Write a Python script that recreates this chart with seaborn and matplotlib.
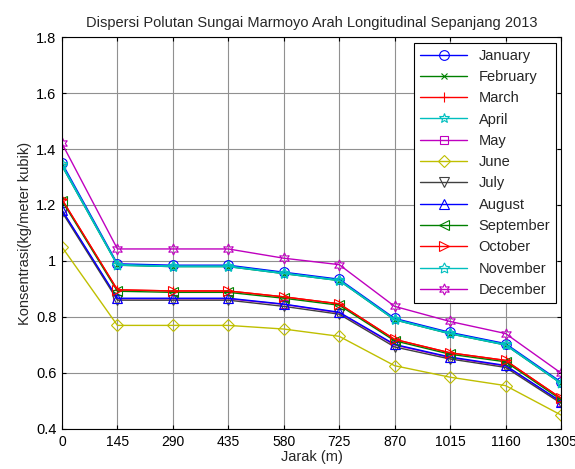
import matplotlib
matplotlib.use('Agg')
import matplotlib.pyplot as plt
from matplotlib.ticker import FuncFormatter
import pandas as pd
import seaborn as sns

sns.set_style(style='whitegrid')
plt.rcParams['font.family'] = ['Liberation Sans', 'DejaVu Sans']

jarak = [0, 145, 290, 435, 580, 725, 870, 1015, 1160, 1305]

months = ['January', 'February', 'March', 'April', 'May', 'June', 'July',
          'August', 'September', 'October', 'November', 'December']

january = [1.35, 0.99, 0.985, 0.985, 0.96, 0.935, 0.795, 0.745, 0.705, 0.568]
february = [1.34, 0.985, 0.98, 0.98, 0.955, 0.93, 0.79, 0.74, 0.70, 0.563]
march = [1.22, 0.897, 0.893, 0.893, 0.872, 0.847, 0.72, 0.672, 0.645, 0.51]
april = [1.34, 0.985, 0.98, 0.98, 0.955, 0.93, 0.79, 0.74, 0.70, 0.563]
may = [1.18, 0.865, 0.865, 0.865, 0.845, 0.815, 0.70, 0.655, 0.625, 0.497]
june = [1.05, 0.77, 0.77, 0.77, 0.757, 0.731, 0.626, 0.585, 0.555, 0.45]
july = [1.175, 0.86, 0.86, 0.86, 0.838, 0.81, 0.693, 0.65, 0.62, 0.492]
august = [1.182, 0.867, 0.867, 0.867, 0.846, 0.817, 0.702, 0.657, 0.627, 0.498]
september = [1.215, 0.892, 0.888, 0.888, 0.867, 0.842, 0.715, 0.667, 0.64, 0.505]
october = [1.22, 0.897, 0.893, 0.893, 0.872, 0.847, 0.72, 0.672, 0.645, 0.51]
november = [1.345, 0.987, 0.982, 0.982, 0.957, 0.932, 0.792, 0.742, 0.702, 0.565]
december = [1.42, 1.043, 1.043, 1.043, 1.01, 0.987, 0.838, 0.784, 0.741, 0.60]

series = [january, february, march, april, may, june, july,
          august, september, october, november, december]

colors = ['#0000ff', '#008000', '#ff0000', '#00bfbf', '#bf00bf', '#bfbf00',
          '#404040', '#0000ff', '#008000', '#ff0000', '#00bfbf', '#bf00bf']
markers = ['o', 'x', '+', '*', 's', 'D', 'v', '^', '<', '>', (5, 1, 0), (6, 1, 0)]
msizes = [7, 4, 7, 7, 6, 6, 7, 7, 7, 7, 8, 8]

fig = plt.figure(figsize=(5.75, 4.69), dpi=100)
ax = fig.add_axes([0.1078, 0.0853, 0.8678, 0.8358])

for name, vals, c, m, ms in zip(months, series, colors, markers, msizes):
    df = pd.DataFrame({'jarak': jarak, 'konsentrasi': vals})
    sns.lineplot(data=df, x='jarak', y='konsentrasi', ax=ax, color=c,
                 marker=m, markersize=ms, markerfacecolor='none',
                 markeredgecolor=c, markeredgewidth=0.8, linewidth=1.0,
                 label=name)

ax.set_xlim(0, 1305)
ax.set_ylim(0.4, 1.8)
ax.set_xticks(jarak)
ax.set_yticks([0.4, 0.6, 0.8, 1.0, 1.2, 1.4, 1.6, 1.8])
ax.yaxis.set_major_formatter(FuncFormatter(lambda v, p: '%g' % round(v, 2)))
ax.tick_params(direction='in', length=3, labelsize=10.5, colors='black',
               top=True, right=True, bottom=True, left=True, pad=4)
ax.tick_params(axis='x', labelsize=10)
ax.grid(True, color='#909090', linewidth=0.8)
for s in ax.spines.values():
    s.set_color('black')
    s.set_linewidth(0.8)

ax.set_title('Dispersi Polutan Sungai Marmoyo Arah Longitudinal Sepanjang 2013',
             fontsize=10.5, pad=7)
ax.set_xlabel('Jarak (m)', fontsize=10.5, labelpad=1)
ax.set_ylabel('Konsentrasi(kg/meter kubik)', fontsize=10.5, labelpad=3)

leg = ax.legend(loc='upper right', bbox_to_anchor=(0.99, 0.985), fontsize=10.5,
                handlelength=3.2, labelspacing=0.5, borderaxespad=0,
                fancybox=False, framealpha=1, edgecolor='black')
leg.get_frame().set_linewidth(0.8)

fig.savefig('out.png', dpi=100)
